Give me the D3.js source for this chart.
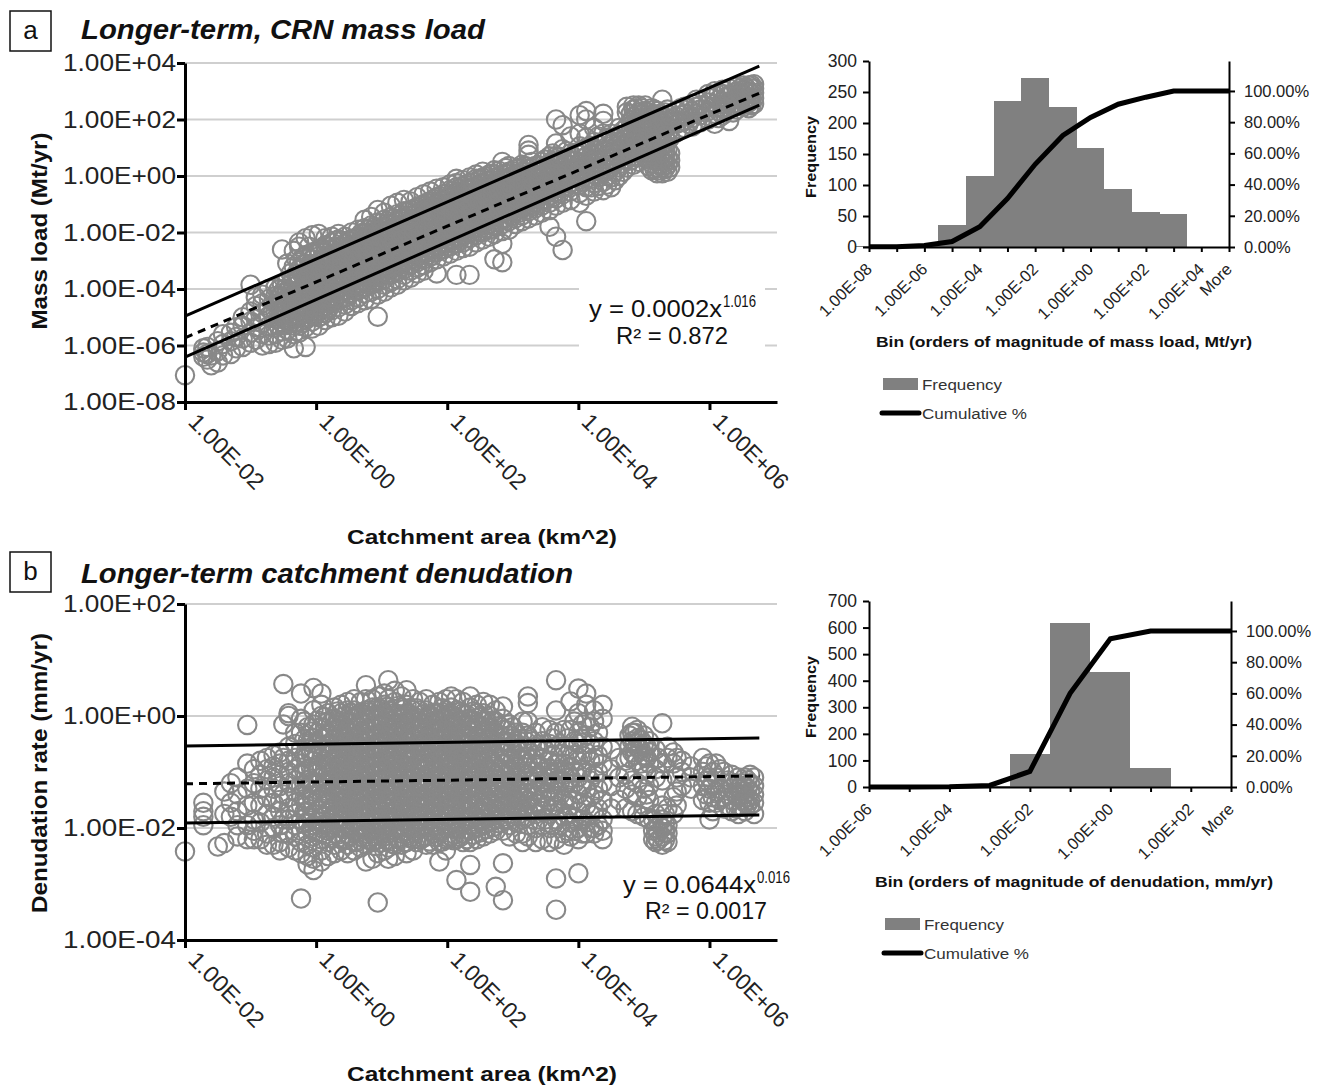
<!DOCTYPE html>
<html lang="en">
<head>
<meta charset="UTF-8">
<title>Longer-term mass load and denudation</title>
<script src="https://d3js.org/d3.v7.min.js"></script>
<style>
  body { margin: 0; background: #fff; }
  svg { display: block; font-family: "Liberation Sans", Arial, sans-serif; }
  .grid { stroke: #cfcfcf; stroke-width: 2; }
  .pt { fill: none; stroke: #888; stroke-width: 2.1; }
  .tick text { fill: #222; }
</style>
</head>
<body>
<svg width="1320" height="1087"></svg>
<script>
// values. scatter rows are [log10 area, [log10 y, ...]]
var massLoadPoints = [
[-2,[-7.05]],[-1.72,[-6.25,-6.4,-6.1]],[-1.66,[-6.5,-6.3,-6.05]],[-1.6,[-6.7,-6.35]],[-1.5,[-6.6,-6.2,-5.85]],
[-1.42,[-6.35,-5.95,-5.6]],[-1.3,[-6.3,-5.85,-5.55]],[-1.22,[-6.1,-5.7,-5.35]],[-1.12,[-6.05,-5.75,-5.3,-5]],
[-1,[-5.9,-5.55,-5.15,-4.8,-3.85]],[-.92,[-5.8,-5.35,-5.05,-4.6,-4.3]],[-.82,[-6,-5.6,-5.2,-4.85,-4.5,-4.2]],
[-.72,[-5.95,-5.65,-5.3,-4.95,-4.7,-4.35,-4]],[-.62,[-5.9,-5.6,-5.35,-5.05,-4.8,-4.5,-4.25,-3.95]],
[-.52,[-5.8,-5.5,-5.2,-4.95,-4.7,-4.45,-4.15,-3.85,-2.6]],[-.44,[-5.75,-5.45,-5.15,-4.85,-4.6,-4.3,-4.05,-3.7,-3.1]],
[-.34,[-6.1,-5.6,-5.3,-5.05,-4.75,-4.5,-4.2,-3.9,-3.6,-3.2,-2.65]],
[-.26,[-5.55,-5.3,-5,-4.8,-4.55,-4.3,-4.05,-3.8,-3.55,-3.3,-3.05,-2.5,-2.35]],
[-.16,[-6.05,-5.35,-5.1,-4.85,-4.6,-4.4,-4.1,-3.85,-3.6,-3.4,-3.1,-2.8,-2.2]],
[-.06,[-5.4,-5.15,-4.9,-4.65,-4.35,-4.15,-3.9,-3.65,-3.4,-3.15,-2.95,-2.7,-2.1]],
[.04,[-5.3,-5,-4.8,-4.55,-4.3,-4.05,-3.8,-3.55,-3.3,-3.05,-2.85,-2.6,-2.05]],
[.14,[-5.1,-4.85,-4.6,-4.4,-4.15,-3.9,-3.65,-3.4,-3.2,-2.95,-2.7,-2.45,-2.2]],
[.24,[-5,-4.75,-4.5,-4.25,-4,-3.8,-3.55,-3.3,-3.05,-2.8,-2.6,-2.35,-2.15]],
[.34,[-4.95,-4.65,-4.4,-4.2,-3.95,-3.7,-3.45,-3.2,-2.95,-2.75,-2.5,-2.25,-2.05]],
[.44,[-4.8,-4.55,-4.3,-4.05,-3.8,-3.6,-3.35,-3.1,-2.85,-2.65,-2.4,-2.15]],
[.54,[-4.6,-4.4,-4.15,-3.9,-3.7,-3.45,-3.2,-3,-2.75,-2.5,-2.25,-2]],
[.64,[-4.5,-4.3,-4.05,-3.8,-3.55,-3.3,-3.1,-2.85,-2.6,-2.4,-2.15,-1.9]],
[.74,[-4.4,-4.15,-3.95,-3.7,-3.45,-3.25,-3,-2.75,-2.5,-2.3,-2.05,-1.85,-1.55]],
[.84,[-4.35,-4.1,-3.85,-3.6,-3.4,-3.15,-2.9,-2.7,-2.45,-2.2,-2,-1.75,-1.45]],
[.94,[-4.98,-4.2,-4,-3.75,-3.5,-3.3,-3.05,-2.8,-2.6,-2.35,-2.1,-1.9,-1.65,-1.2]],
[1.04,[-4.1,-3.85,-3.65,-3.4,-3.2,-2.95,-2.7,-2.5,-2.25,-2,-1.8,-1.55,-1.3]],
[1.14,[-3.95,-3.75,-3.5,-3.3,-3.05,-2.85,-2.6,-2.35,-2.15,-1.9,-1.7,-1.45,-1.05]],
[1.24,[-3.85,-3.65,-3.4,-3.15,-2.95,-2.7,-2.5,-2.25,-2.05,-1.8,-1.6,-1.35,-.95]],
[1.34,[-3.7,-3.5,-3.3,-3.05,-2.85,-2.6,-2.4,-2.15,-1.95,-1.7,-1.5,-1.25,-.85]],
[1.44,[-3.6,-3.35,-3.15,-2.95,-2.75,-2.5,-2.3,-2.05,-1.85,-1.6,-1.4,-1.2,-.9]],
[1.54,[-3.45,-3.25,-3.05,-2.85,-2.6,-2.4,-2.2,-1.95,-1.75,-1.55,-1.3,-1.1,-.75]],
[1.64,[-3.35,-3.15,-2.95,-2.7,-2.5,-2.3,-2.05,-1.85,-1.65,-1.4,-1.2,-1,-.65]],
[1.74,[-3.05,-2.85,-2.6,-2.4,-2.2,-1.95,-1.75,-1.55,-1.3,-1.1,-.9,-.55]],
[1.84,[-3.45,-2.95,-2.7,-2.5,-2.3,-2.05,-1.85,-1.65,-1.4,-1.2,-1,-.75,-.45]],
[1.94,[-2.85,-2.6,-2.4,-2.15,-1.95,-1.75,-1.5,-1.3,-1.1,-.85,-.65,-.4]],
[2.04,[-2.75,-2.5,-2.3,-2.05,-1.85,-1.6,-1.4,-1.2,-.95,-.75,-.5,-.3]],
[2.14,[-3.5,-2.65,-2.4,-2.2,-1.95,-1.75,-1.5,-1.3,-1.05,-.85,-.6,-.4,-.25,-.1]],
[2.24,[-2.55,-2.35,-2.1,-1.9,-1.65,-1.45,-1.2,-1,-.8,-.55,-.35,-.15]],
[2.34,[-3.5,-2.5,-2.2,-2,-1.75,-1.55,-1.3,-1.1,-.9,-.65,-.45,-.25,-.05]],
[2.44,[-2.35,-2.1,-1.85,-1.65,-1.4,-1.2,-1,-.75,-.55,-.35,-.1,.05]],
[2.54,[-2.25,-2,-1.75,-1.55,-1.3,-1.1,-.9,-.7,-.45,-.25,-.05,.15]],
[2.64,[-2.15,-1.9,-1.7,-1.45,-1.25,-1,-.8,-.6,-.35,-.15,.05]],
[2.72,[-2.95,-2.05,-1.8,-1.55,-1.35,-1.15,-.9,-.7,-.5,-.25,-.05,.2]],
[2.84,[-3.05,-2.4,-1.95,-1.7,-1.5,-1.25,-1.05,-.8,-.6,-.4,-.15,.05,.5]],
[2.94,[-1.9,-1.6,-1.35,-1.15,-.95,-.7,-.5,-.3,-.05,.15,.35]],
[3.04,[-1.7,-1.5,-1.25,-1.05,-.8,-.6,-.4,-.2,.05,.25]],
[3.14,[-1.6,-1.4,-1.15,-.95,-.7,-.5,-.3,-.05,.15,.4]],
[3.24,[-1.5,-1.25,-1.05,-.85,-.6,-.4,-.2,.05,.25,.9,1.1,.75]],
[3.34,[-1.4,-1.15,-.95,-.7,-.5,-.3,-.05,.15,.35]],
[3.44,[-1.3,-1.05,-.85,-.6,-.4,-.2,.05,.25,.5]],
[3.56,[-1.8,-1.2,-.95,-.7,-.45,-.25,0,.25,.45,.7]],
[3.66,[-2.15,-1.05,-.8,-.55,-.3,-.05,.2,.45,.7,1.15,2]],
[3.76,[-2.62,-.95,-.65,-.4,-.15,.1,.35,.6,.95,1.8]],
[3.88,[-.85,-.55,-.25,0,.25,.55,.8,1.4]],
[4.02,[-.95,-.6,-.3,-.05,.2,.5,.75,1.05,1.5,2.15]],
[4.12,[-1.6,-.7,-.4,-.1,.15,.4,.7,1,1.35,2.0,2.3]],
[4.24,[-.55,-.25,.05,.3,.6,.9,1.2,1.7]],
[4.38,[-.5,-.2,.1,.35,.6,.9,1.2,1.5,1.95,2.2]],
[4.5,[-.4,-.05,.3,.6,.85,1.15,1.5]],
[4.62,[0,.3,.6,.9,1.2,1.45,1.7]],
[4.74,[.3,.6,.9,1.15,1.4,1.75,2.25,2.45]],
[4.84,[.4,.7,1,1.25,1.55,1.85,2.1,2.35,2.5]],
[4.92,[.5,.9,1.2,1.5,1.75,2,2.25,2.5]],
[5.02,[.65,.95,1.25,1.55,1.8,2.05,2.3,2.5]],
[5.12,[.2,.45,.7,1.1,1.4,1.65,1.9,2.15,2.4]],
[5.2,[.1,.3,.55,.85,1.2,1.45,1.7,2,2.3]],
[5.28,[.1,.3,.55,.8,1.05,1.3,1.6,1.85,2.1,2.7]],
[5.36,[.15,.4,.65,.95,1.2,1.5,1.75,2.05,2.35]],
[5.5,[1.55,1.85,2.1,2.3]],[5.62,[1.7,1.95,2.2,2.45]],[5.74,[1.75,2.05,2.3,2.55]],
[5.86,[1.9,2.15,2.35,2.5]],[5.98,[2,2.3,2.6,2.9]],[6.08,[1.85,2.2,2.55,2.85,3]],
[6.2,[2.15,2.4,2.65,2.9,3.05]],[6.3,[1.95,2.4,2.6,2.85,3.1]],[6.42,[2.35,2.55,2.75,3,3.15]],
[6.52,[2.45,2.65,2.85,3.05,3.2]],[6.6,[2.4,2.6,2.8,3,3.2]],[6.68,[2.55,2.75,2.95,3.1,3.25]],
// the solid middle of the band
[-.57,[-5.3,-5.05,-4.82,-4.58,-4.3,-4.02]],[-.48,[-5.28,-5.02,-4.78,-4.52,-4.28,-4]],
[-.39,[-5.2,-4.92,-4.68,-4.4,-4.12,-3.82,-3.45]],[-.3,[-5.15,-4.7,-4.45,-4.15,-3.7,-3.45,-2.95]],
[-.21,[-5.2,-4.9,-4.5,-4.2,-3.95,-3.5,-3.25,-2.9]],[-.11,[-5,-4.72,-4.48,-4.22,-3.72,-3.48,-3.22,-2.92,-2.5]],
[-.01,[-4.92,-4.68,-4.42,-4.18,-3.92,-3.68,-3.42,-3.18,-2.78]],[.09,[-4.95,-4.7,-4.48,-4.25,-4,-3.75,-3.5,-3.28,-3,-2.55]],
[.19,[-4.7,-4.5,-4.28,-4.05,-3.78,-3.52,-3.3,-3.08,-2.82,-2.5]],[.29,[-4.3,-4.1,-3.9,-3.68,-3.45,-3.22,-3,-2.8,-2.55,-2.3]],
[.39,[-4.15,-3.92,-3.72,-3.48,-3.22,-3,-2.78,-2.52,-2.3]],[.49,[-4.15,-3.9,-3.65,-3.42,-3.25,-3,-2.75,-2.55,-2.28]],
[.59,[-4.05,-3.82,-3.6,-3.35,-3.15,-2.92,-2.7,-2.45,-2.2]],[.69,[-3.95,-3.68,-3.42,-3.2,-2.95,-2.72,-2.5,-2.25,-2.02]],
[.79,[-3.8,-3.55,-3.32,-3.1,-2.85,-2.62,-2.38,-2.12,-1.9]],[.89,[-3.7,-3.42,-3.22,-2.98,-2.75,-2.52,-2.28,-2.05,-1.82]],
[.99,[-3.55,-3.3,-3.08,-2.85,-2.62,-2.42,-2.18,-1.92,-1.68]],[1.09,[-3.45,-3.22,-2.98,-2.75,-2.52,-2.3,-2.05,-1.82,-1.6]],
[1.19,[-3.35,-3.1,-2.85,-2.62,-2.4,-2.18,-1.95,-1.72,-1.5]],[1.29,[-3.25,-3,-2.75,-2.52,-2.3,-2.08,-1.85,-1.6,-1.38]],
[1.39,[-3.12,-2.88,-2.65,-2.42,-2.2,-1.98,-1.75,-1.5,-1.28]],[1.49,[-3,-2.75,-2.52,-2.3,-2.08,-1.88,-1.65,-1.42,-1.18]],
[1.59,[-2.92,-2.68,-2.42,-2.2,-1.98,-1.75,-1.52,-1.28,-1.05]],[1.69,[-2.82,-2.55,-2.32,-2.08,-1.88,-1.65,-1.42,-1.18,-.95]],
[1.79,[-2.72,-2.45,-2.22,-2,-1.78,-1.55,-1.32,-1.08,-.82]],[1.89,[-2.62,-2.35,-2.12,-1.88,-1.68,-1.42,-1.2,-.98,-.72]],
[1.99,[-2.5,-2.25,-2.02,-1.78,-1.55,-1.32,-1.08,-.88,-.62]],[2.09,[-2.4,-2.15,-1.92,-1.68,-1.45,-1.22,-1,-.78,-.52]],
[2.19,[-2.28,-2.02,-1.78,-1.58,-1.35,-1.12,-.9,-.68,-.45]],[2.29,[-2.2,-1.95,-1.72,-1.48,-1.25,-1.02,-.8,-.58,-.32]],
[2.39,[-2.08,-1.82,-1.58,-1.35,-1.12,-.9,-.68,-.45,-.22]],[2.49,[-1.95,-1.72,-1.48,-1.25,-1.02,-.82,-.58,-.35,-.12]],
[2.59,[-1.85,-1.6,-1.38,-1.15,-.92,-.7,-.48,-.25,-.02]],[2.69,[-1.75,-1.5,-1.28,-1.05,-.82,-.6,-.38,-.15,.08]],
[2.79,[-1.62,-1.38,-1.18,-.95,-.72,-.5,-.28,-.05,.18]],[2.89,[-1.5,-1.28,-1.05,-.82,-.6,-.38,-.15,.08,.28]],
[2.99,[-1.42,-1.18,-.95,-.72,-.5,-.28,-.05,.18]],[3.09,[-1.3,-1.08,-.85,-.62,-.4,-.18,.05,.28]],
[3.19,[-1.2,-.98,-.75,-.52,-.3,-.08,.15,.35]],[3.29,[-1.08,-.85,-.62,-.4,-.18,.05,.28,.5]],
[3.39,[-.98,-.75,-.52,-.3,-.08,.15,.38]],[3.49,[-.88,-.62,-.38,-.15,.08,.32,.58]],
[3.61,[-.75,-.48,-.22,.02,.28,.52,.8]],[3.71,[-.62,-.32,-.08,.18,.42,.68]],
[3.82,[-.4,-.12,.12,.38,.62,.88]],[3.95,[-.3,0,.28,.55,.82]],[4.08,[-.2,.08,.35,.62,.92]],
// thick patches further along
[4.2,[-.4,-.1,.2,.45,.75,1.05]],[4.3,[-.35,-.05,.25,.5,.8,1.1,1.4]],[4.44,[-.3,0,.25,.5,.75,1.05,1.35]],
[4.56,[-.15,.15,.45,.75,1.05,1.3]],[4.68,[.15,.45,.75,1.05,1.3,1.6]],[4.8,[.55,.85,1.1,1.35,1.65,1.95,2.2]],
[4.88,[.65,1.05,1.35,1.65,1.9,2.15,2.4]],[4.97,[.8,1.1,1.4,1.7,1.95,2.2,2.4]],[5.07,[.35,.6,.85,1.25,1.55,1.75,2,2.25]],
[5.16,[.25,.55,.8,1,1.3,1.55,1.8,2.1,2.35]],[5.24,[.2,.42,.68,.95,1.15,1.4,1.7,1.95,2.2]],
[5.32,[.25,.48,.72,.92,1.12,1.42,1.7,1.95,2.25]],[5.4,[.3,.55,.8,1.35,1.65,1.9,2.15]],
[5.56,[1.65,1.9,2.15,2.4]],[5.68,[1.85,2.1,2.4]],[5.8,[1.9,2.2,2.45,2.7]],[6.03,[2.1,2.45,2.75]],
[6.14,[2.05,2.3,2.7,2.95]],[6.25,[2.3,2.55,2.8,3]],[6.36,[2.25,2.5,2.7,2.95]],[6.47,[2.5,2.7,2.9,3.1]],
[6.56,[2.55,2.75,2.95,3.12]],[6.64,[2.5,2.7,2.9,3.1,3.22]]
];

var denudationPoints = [
[-2,[-2.42]],[-1.72,[-1.55,-1.7,-1.8,-1.95]],[-1.5,[-2.33]],[-1.4,[-2.27,-1.35,-1.75]],[-1.3,[-1.2,-1.55,-1.8]],
[-1.2,[-2.15,-1.1,-1.4,-1.7,-1.95]],[-1.05,[-.16,-2.2,-.85,-1.3,-1.6,-1.95]],[-.95,[-2.2,-.95,-1.2,-1.55,-1.85,-2.05]],
[-.85,[-.8,-1.05,-1.3,-1.6,-1.9,-2.2]],[-.75,[-.75,-.95,-1.15,-1.45,-1.75,-2.1,-2.3]],
[-.65,[-.7,-.9,-1.1,-1.3,-1.55,-1.8,-2,-2.3]],[-.55,[-.65,-.85,-1.05,-1.25,-1.5,-1.7,-1.95,-2.25,-2.4]],
[-.5,[.57,-.15,-.75,-1.4,-1.85,-2.1]],[-.42,[.05,.0,-.55,-.8,-1,-1.2,-1.45,-1.65,-1.85,-2.1,-2.35]],
[-.32,[-.3,-.5,-.75,-.95,-1.15,-1.35,-1.55,-1.75,-1.95,-2.15,-2.4]],
[-.23,[.4,-.05,-.3,-.6,-.85,-1.05,-1.25,-1.4,-1.6,-1.85,-2.05,-2.25,-2.45,-3.26]],
[-.13,[-.2,-.45,-.7,-.95,-1.15,-1.3,-1.5,-1.7,-1.9,-2.1,-2.3,-2.5,-2.65]],
[-.04,[.5,.1,-.15,-.4,-.6,-.8,-1,-1.2,-1.35,-1.55,-1.75,-1.95,-2.15,-2.35,-2.55,-2.75]],
[.08,[.4,.2,0,-.2,-.4,-.6,-.75,-.95,-1.1,-1.3,-1.45,-1.65,-1.8,-2,-2.2,-2.4,-2.6]],
[.18,[.05,-.1,-.3,-.5,-.7,-.85,-1.05,-1.2,-1.4,-1.55,-1.7,-1.9,-2.05,-2.25,-2.5]],
[.28,[.15,-.05,-.2,-.4,-.55,-.75,-.9,-1.1,-1.25,-1.4,-1.6,-1.75,-1.95,-2.1,-2.3,-2.45]],
[.38,[.2,.05,-.15,-.35,-.5,-.65,-.85,-1,-1.15,-1.35,-1.5,-1.65,-1.85,-2,-2.2,-2.4]],
[.48,[.25,.1,-.1,-.25,-.45,-.6,-.8,-.95,-1.1,-1.25,-1.45,-1.6,-1.75,-1.95,-2.1,-2.3,-2.45]],
[.58,[.3,.1,-.05,-.2,-.4,-.55,-.7,-.9,-1.05,-1.2,-1.4,-1.55,-1.7,-1.9,-2.05,-2.25,-2.4]],
[.68,[.25,.05,-.1,-.3,-.45,-.65,-.8,-1,-1.15,-1.3,-1.5,-1.65,-1.8,-2,-2.15,-2.35]],
[.76,[.55,.3,.1,-.05,-.25,-.4,-.55,-.75,-.9,-1.05,-1.25,-1.4,-1.6,-1.75,-1.9,-2.1,-2.3,-2.6]],
[.86,[.3,.15,-.05,-.2,-.35,-.55,-.7,-.85,-1.05,-1.2,-1.35,-1.5,-1.7,-1.85,-2.05,-2.25,-2.55]],
[.94,[.35,.15,0,-.15,-.35,-.5,-.65,-.85,-1,-1.15,-1.3,-1.5,-1.65,-1.85,-2,-2.2,-2.45,-3.33]],
[1.04,[.4,.2,.05,-.1,-.3,-.45,-.6,-.8,-.95,-1.1,-1.3,-1.45,-1.6,-1.8,-1.95,-2.15,-2.4]],
[1.1,[.64,.3,.1,-.05,-.25,-.4,-.6,-.75,-.9,-1.1,-1.25,-1.4,-1.55,-1.75,-1.9,-2.1,-2.35,-2.55]],
[1.2,[.45,.25,.05,-.15,-.3,-.5,-.65,-.85,-1,-1.2,-1.35,-1.5,-1.7,-1.85,-2.05,-2.3,-2.5]],
[1.3,[.35,.15,0,-.2,-.35,-.55,-.7,-.9,-1.05,-1.25,-1.4,-1.6,-1.75,-1.95,-2.1,-2.3]],
[1.38,[.46,.2,.05,-.1,-.3,-.45,-.65,-.8,-1,-1.15,-1.35,-1.5,-1.7,-1.85,-2.05,-2.25,-2.45]],
[1.48,[.3,.1,-.05,-.25,-.4,-.6,-.75,-.95,-1.1,-1.3,-1.45,-1.65,-1.8,-2,-2.2,-2.4]],
[1.58,[.25,.1,-.1,-.25,-.45,-.6,-.8,-.95,-1.15,-1.3,-1.5,-1.65,-1.85,-2,-2.2]],
[1.68,[.3,.1,-.05,-.2,-.4,-.55,-.75,-.9,-1.1,-1.25,-1.45,-1.6,-1.8,-1.95,-2.15,-2.3]],
[1.78,[.2,.05,-.15,-.3,-.5,-.65,-.85,-1,-1.2,-1.35,-1.55,-1.7,-1.9,-2.1,-2.3]],
[1.88,[.25,.05,-.1,-.3,-.45,-.65,-.8,-1,-1.15,-1.35,-1.5,-1.7,-1.85,-2.05,-2.25,-2.6]],
[1.98,[.3,.1,-.05,-.25,-.4,-.6,-.75,-.95,-1.1,-1.3,-1.45,-1.65,-1.8,-2,-2.2,-2.4]],
[2.06,[.35,.15,-.05,-.2,-.4,-.55,-.75,-.9,-1.1,-1.25,-1.45,-1.6,-1.8,-1.95,-2.15]],
[2.14,[.3,.1,-.1,-.25,-.45,-.6,-.8,-.95,-1.15,-1.3,-1.5,-1.65,-1.85,-2,-2.2,-2.93]],
[2.24,[.25,.05,-.1,-.3,-.5,-.65,-.85,-1,-1.2,-1.35,-1.55,-1.7,-1.9,-2.1,-2.25]],
[2.35,[.35,.15,-.05,-.2,-.4,-.6,-.75,-.95,-1.1,-1.3,-1.5,-1.65,-1.85,-2.05,-2.25,-2.66,-3.14]],
[2.45,[.2,.05,-.15,-.35,-.5,-.7,-.85,-1.05,-1.25,-1.4,-1.6,-1.8,-2,-2.2]],
[2.55,[.25,.05,-.1,-.3,-.5,-.65,-.85,-1.05,-1.2,-1.4,-1.6,-1.75,-1.95,-2.15]],
[2.65,[.2,0,-.2,-.4,-.55,-.75,-.95,-1.1,-1.3,-1.5,-1.7,-1.9,-2.1]],
[2.74,[.1,-.1,-.3,-.5,-.7,-.9,-1.05,-1.25,-1.45,-1.65,-1.85,-2.05,-3.05]],
[2.85,[.17,-.05,-.25,-.45,-.65,-.85,-1,-1.2,-1.4,-1.6,-1.8,-2.05,-2.63,-3.29]],
[2.95,[-.15,-.35,-.55,-.75,-.95,-1.15,-1.35,-1.55,-1.75,-1.95,-2.15]],
[3.05,[-.3,-.5,-.7,-.9,-1.1,-1.3,-1.5,-1.7,-1.9,-2.1]],
[3.15,[-.1,-.3,-.55,-.8,-1,-1.25,-1.45,-1.65,-1.85,-2.1,-2.25]],
[3.23,[.35,.23,-.1,-.35,-.6,-.85,-1.05,-1.3,-1.5,-1.7,-1.95,-2.15]],
[3.35,[-.3,-.55,-.85,-1.1,-1.35,-1.55,-1.75,-2,-2.25]],
[3.45,[-.2,-.45,-.75,-1,-1.2,-1.45,-1.7,-1.95,-2.2]],
[3.56,[-.25,-.5,-.8,-.95,-1.1,-1.3,-1.5,-1.75,-2,-2.25]],
[3.66,[.64,.1,-.3,-.55,-.85,-1,-1.15,-1.35,-1.6,-1.85,-2.2,-2.9,-3.46]],
[3.78,[-.25,-.55,-.85,-1.05,-1.25,-1.5,-1.8,-2.1,-2.3]],
[3.88,[.26,-.25,-.6,-.9,-1.1,-1.3,-1.6,-1.9,-2.15]],
[4,[.49,.05,-.3,-.5,-.8,-1.1,-1.4,-1.7,-2,-2.2,-2.81]],
[4.12,[.4,.2,-.1,-.35,-.65,-1,-1.3,-1.6,-1.9,-2.1]],
[4.24,[.1,-.1,-.45,-.75,-1.05,-1.4,-1.7,-2,-2.1]],
[4.37,[.2,-.05,-.55,-.85,-1.2,-1.5,-1.85,-2.05,-2.2]],
[4.5,[-.6,-.95,-1.25,-1.65]],[4.62,[-.75,-1.1,-1.5]],[4.72,[-.8,-1.05,-1.3,-1.65]],
[4.82,[-.19,-.3,-.45,-.65,-1.15,-1.4,-1.7]],[4.9,[-.25,-.4,-.55,-.8,-1.2,-1.45,-1.75]],
[5,[-.35,-.5,-.7,-.95,-1.3,-1.6,-1.8]],[5.08,[-.45,-.65,-.85,-1.25,-1.5,-1.85]],
[5.18,[-.6,-.95,-1.1,-1.75,-2,-2.15,-2.25]],[5.28,[-.13,-.85,-1.15,-1.6,-1.85,-2,-2.15,-2.3]],
[5.36,[-.55,-.75,-1.65,-1.95,-2.1,-2.25]],[5.45,[-.65,-.85,-1.45,-1.75]],[5.58,[-.8,-1,-1.25]],
[5.72,[-.9,-1.1,-1.3]],[5.9,[-.75,-1,-1.25,-1.5]],[6,[-.85,-1.1,-1.3,-1.55,-1.85]],
[6.1,[-.85,-1.1,-1.35,-1.55]],[6.22,[-1,-1.2,-1.45,-1.65]],[6.34,[-1.05,-1.3,-1.5,-1.7]],
[6.44,[-1.1,-1.3,-1.45,-1.6,-1.75]],[6.54,[-1.1,-1.25,-1.4,-1.55,-1.7]],[6.62,[-1.05,-1.2,-1.35,-1.5,-1.6]],
[6.68,[-1.1,-1.25,-1.4,-1.55,-1.75]],
// the solid middle of the cloud
[-.18,[-1.92,-1.72,-1.48,-1.22,-.98,-.72,-.42,-.1]],[-.08,[-2.02,-1.82,-1.62,-1.42,-1.18,-.92,-.68,-.48,-.28]],
[.02,[-2.08,-1.88,-1.68,-1.5,-1.22,-1.02,-.88,-.68,-.5,-.3,-.08]],
[.13,[-2.12,-1.95,-1.78,-1.58,-1.38,-1.18,-.98,-.78,-.58,-.38,-.22,-.02]],
[.23,[-2.18,-2,-1.82,-1.65,-1.48,-1.32,-1.15,-.98,-.82,-.62,-.48,-.28,-.12]],
[.33,[-2.12,-1.92,-1.72,-1.55,-1.35,-1.22,-1.05,-.88,-.72,-.58,-.42,-.25,-.08,.08]],
[.43,[-2.22,-2.02,-1.85,-1.68,-1.52,-1.35,-1.18,-1.02,-.85,-.7,-.52,-.35,-.18,0]],
[.53,[-2.15,-1.98,-1.78,-1.62,-1.48,-1.3,-1.12,-.97,-.78,-.63,-.47,-.3,-.12,.05]],
[.63,[-2.25,-2.08,-1.88,-1.72,-1.55,-1.38,-1.22,-1.06,-.88,-.72,-.55,-.38,-.2,-.02]],
[.72,[-2.18,-2,-1.83,-1.66,-1.47,-1.33,-1.13,-.96,-.82,-.62,-.49,-.32,-.15,.02]],
[.81,[-2.2,-1.95,-1.78,-1.6,-1.43,-1.27,-1.1,-.93,-.77,-.6,-.43,-.27,-.12,.07]],
[.9,[-2.32,-2.1,-1.92,-1.74,-1.58,-1.41,-1.23,-1.07,-.91,-.73,-.58,-.41,-.23,-.07,.1]],
[.99,[-2.26,-2.06,-1.88,-1.71,-1.53,-1.37,-1.2,-1.04,-.87,-.7,-.53,-.37,-.2,-.04,.12]],
[1.07,[-2.22,-2.02,-1.84,-1.66,-1.5,-1.33,-1.16,-1,-.83,-.66,-.5,-.33,-.16,0,.16]],
[1.15,[-2.28,-2.08,-1.91,-1.73,-1.57,-1.4,-1.23,-1.05,-.88,-.72,-.55,-.38,-.22,-.08,.08]],
[1.25,[-2.2,-2.02,-1.82,-1.64,-1.47,-1.3,-1.13,-.97,-.8,-.63,-.47,-.3,-.13,.03,.18]],
[1.34,[-2.26,-2.06,-1.87,-1.7,-1.53,-1.37,-1.19,-1.02,-.86,-.69,-.52,-.36,-.19,-.02,.12]],
[1.43,[-2.18,-1.98,-1.81,-1.63,-1.47,-1.3,-1.12,-.96,-.79,-.62,-.46,-.29,-.13,.03]],
[1.53,[-2.25,-2.05,-1.88,-1.7,-1.53,-1.37,-1.2,-1.03,-.87,-.7,-.53,-.37,-.2,-.03,.14]],
[1.63,[-2.18,-1.98,-1.79,-1.62,-1.46,-1.28,-1.12,-.96,-.78,-.62,-.46,-.29,-.13,.03]],
[1.73,[-2.24,-2.05,-1.86,-1.69,-1.52,-1.35,-1.19,-1.03,-.86,-.69,-.53,-.36,-.2,-.02]],
[1.83,[-2.16,-1.96,-1.78,-1.61,-1.43,-1.27,-1.1,-.93,-.77,-.6,-.43,-.27,-.1,.06]],
[1.93,[-2.24,-2.05,-1.88,-1.71,-1.53,-1.37,-1.2,-1.03,-.86,-.7,-.53,-.36,-.2,-.03,.14]],
[2.02,[-2.18,-1.98,-1.8,-1.62,-1.46,-1.3,-1.13,-.96,-.8,-.63,-.46,-.3,-.13,.03]],
[2.1,[-2.22,-2.02,-1.84,-1.67,-1.5,-1.33,-1.16,-1,-.83,-.66,-.5,-.33,-.16,0]],
[2.2,[-2.16,-1.96,-1.78,-1.6,-1.43,-1.26,-1.1,-.93,-.76,-.6,-.43,-.27,-.1,.08]],
[2.3,[-2.2,-2.02,-1.84,-1.67,-1.5,-1.33,-1.17,-1,-.83,-.67,-.5,-.33,-.16,.02]],
[2.4,[-2.12,-1.94,-1.76,-1.58,-1.42,-1.25,-1.08,-.92,-.75,-.58,-.42,-.25,-.08,.08]],
[2.5,[-2.08,-1.88,-1.7,-1.52,-1.34,-1.17,-1,-.83,-.67,-.5,-.33,-.17,-.02]],
[2.6,[-2.02,-1.82,-1.63,-1.45,-1.27,-1.1,-.92,-.75,-.58,-.42,-.25,-.08]],
[2.7,[-1.98,-1.76,-1.56,-1.37,-1.18,-1,-.82,-.63,-.44,-.27,-.08]],
[2.8,[-1.92,-1.7,-1.5,-1.32,-1.12,-.93,-.75,-.55,-.35,-.18]],
[2.9,[-1.85,-1.64,-1.44,-1.25,-1.05,-.85,-.65,-.45,-.25]],
[3,[-1.8,-1.6,-1.4,-1.2,-1,-.8,-.6,-.4,-.2]],[3.1,[-1.75,-1.55,-1.35,-1.15,-.95,-.75,-.45]],
[3.2,[-1.8,-1.6,-1.38,-1.15,-.92,-.72,-.45]],[3.3,[-1.65,-1.45,-1.22,-.98,-.75,-.45]],
[3.4,[-1.85,-1.58,-1.32,-1.08,-.88,-.6]],[3.5,[-1.85,-1.6,-1.38,-1.18,-.95,-.62]],
[3.61,[-1.95,-1.62,-1.42,-1.22,-1.05,-.7,-.4]],[3.72,[-1.95,-1.68,-1.42,-1.18,-.95,-.68]],
// thick patches further along
[3.83,[-.4,-.7,-1,-1.2,-1.45,-1.75,-2.05]],[3.94,[-.1,-.45,-.7,-1,-1.2,-1.5,-1.8,-2.05]],
[4.06,[-.15,-.4,-.7,-.95,-1.25,-1.55,-1.85,-2.1]],[4.18,[-.2,-.5,-.8,-1.15,-1.45,-1.75,-2]],[4.3,[-.3,-.7,-1,-1.3,-1.65,-1.95]],
[4.78,[-.35,-.55,-.75]],[4.86,[-.3,-.48,-.7]],[4.95,[-.42,-.6,-.85]],[5.04,[-.55,-.75,-1.05,-1.4]],
[5.14,[-1.85,-2.05,-2.2]],[5.22,[-1.9,-2.08,-2.22,-.75]],[5.32,[-1.75,-1.92,-2.08,-2.22]],[5.5,[-.75,-1.1,-1.35,-1.6]],
[5.95,[-.9,-1.15,-1.4]],[6.05,[-1,-1.2,-1.45,-1.7]],[6.16,[-.95,-1.3,-1.5]],[6.28,[-1.15,-1.4,-1.6]],
[6.4,[-1.2,-1.4,-1.65]],[6.5,[-1.2,-1.35,-1.5,-1.62]],[6.58,[-1.15,-1.3,-1.45,-1.58]]
];

var areaTicks = [1e-2, 1, 1e2, 1e4, 1e6];
var massTicks = [1e-8, 1e-6, 1e-4, 1e-2, 1, 1e2, 1e4];
var denudationTicks = [1e-4, 1e-2, 1, 1e2];

// trend lines, [[log x, log y], [log x, log y]]
var massMean = [[-2, -5.73], [6.8, 2.97]];
var massUpper = [[-2, -4.96], [6.76, 3.89]];
var massLower = [[-2, -6.41], [6.76, 2.51]];
var denudationMean = [[-2, -1.21], [6.76, -1.07]];
var denudationUpper = [[-2, -.536], [6.76, -.393]];
var denudationLower = [[-2, -1.91], [6.76, -1.77]];

// histograms
var massBins = ["1.00E-08","1.00E-07","1.00E-06","1.00E-05","1.00E-04","1.00E-03","1.00E-02","1.00E-01","1.00E+00","1.00E+01","1.00E+02","1.00E+03","1.00E+04","More"];
var massBinLabels = ["1.00E-08","1.00E-06","1.00E-04","1.00E-02","1.00E+00","1.00E+02","1.00E+04","More"];
var massFreq = [1, 1, 5, 35, 115, 235, 272, 226, 160, 94, 56, 54, 0, 0];
var massCum = [.1, .2, 1, 3.5, 13, 31, 53, 71.5, 83, 91.5, 96, 100, 100, 100];
var massFreqTicks = [0, 50, 100, 150, 200, 250, 300];

var denudationBins = ["1.00E-06","1.00E-05","1.00E-04","1.00E-03","1.00E-02","1.00E-01","1.00E+00","1.00E+01","1.00E+02","More"];
var denudationBinLabels = ["1.00E-06","1.00E-04","1.00E-02","1.00E+00","1.00E+02","More"];
var denudationFreq = [0, 0, 0, 3, 125, 617, 433, 72, 0, 0];
var denudationCum = [0, 0, .1, 1, 10, 60, 95, 100, 100, 100];
var denudationFreqTicks = [0, 100, 200, 300, 400, 500, 600, 700];

var pctTicks = [0, 20, 40, 60, 80, 100];

var svg = d3.select("svg");

function sciFormat(d) {
	var e = Math.round(Math.log10(d));
	var s = String(Math.abs(e));
	if (s.length < 2) s = "0" + s;
	return "1.00E" + (e < 0 ? "-" : "+") + s;
}

// text helper, the picture's type is a bit wider than Liberation so most labels get a textLength
function label(x, y, str, size, opts) {
	opts = opts || {};
	var t = svg.append("text")
		.attr("x", x).attr("y", y)
		.attr("font-size", size)
		.attr("fill", opts.fill || "#111")
		.attr("font-weight", opts.bold ? "bold" : "normal")
		.attr("font-style", opts.italic ? "italic" : "normal")
		.attr("text-anchor", opts.anchor || "start")
		.text(str);
	if (opts.len) t.attr("textLength", opts.len).attr("lengthAdjust", "spacingAndGlyphs");
	if (opts.rotate) t.attr("transform", "rotate(" + opts.rotate + " " + x + " " + y + ")");
	return t;
}

function scatterPanel(p) {
	var x = d3.scaleLog().domain([1e-2, 10 ** 7.03]).range([p.left, p.right]);
	var y = d3.scaleLog().domain([p.yTicks[0], p.yTicks[p.yTicks.length - 1]]).range([p.bottom, p.top]);

	svg.append("g").selectAll("line")
		.data(p.yTicks.slice(1))
		.enter().append("line")
		.attr("class", "grid")
		.attr("x1", p.left).attr("x2", p.right)
		.attr("y1", function(d) { return y(d); })
		.attr("y2", function(d) { return y(d); });

	if (p.mask) {
		svg.append("rect").attr("x", p.mask[0]).attr("y", p.mask[1])
			.attr("width", p.mask[2]).attr("height", p.mask[3]).attr("fill", "#fff");
	}

	var pts = p.points.flatMap(function(row) {
		return row[1].map(function(v) { return [10 ** row[0], 10 ** v]; });
	});
	svg.append("g").selectAll("circle")
		.data(pts)
		.enter().append("circle")
		.attr("class", "pt")
		.attr("cx", function(d) { return x(d[0]); })
		.attr("cy", function(d) { return y(d[1]); })
		.attr("r", 9.2);

	var line = d3.line()
		.x(function(d) { return x(10 ** d[0]); })
		.y(function(d) { return y(10 ** d[1]); });
	[p.upper, p.lower, p.mean].forEach(function(tr, i) {
		svg.append("path").datum(tr)
			.attr("d", line)
			.attr("fill", "none")
			.attr("stroke", "#000")
			.attr("stroke-width", 3)
			.attr("stroke-dasharray", i == 2 ? "8 6" : null);
	});

	var xAxis = d3.axisBottom(x).tickValues(areaTicks).tickFormat(sciFormat).tickSizeInner(8).tickSizeOuter(0);
	var yAxis = d3.axisLeft(y).tickValues(p.yTicks).tickFormat(sciFormat).tickSizeInner(8).tickSizeOuter(0);

	var gx = svg.append("g").attr("transform", "translate(0," + p.bottom + ")").call(xAxis);
	gx.selectAll("text")
		.attr("font-size", 23).attr("text-anchor", "start")
		.attr("transform", "rotate(45)")
		.attr("x", 16).attr("y", 14).attr("dy", 0)
		.attr("textLength", 96).attr("lengthAdjust", "spacingAndGlyphs");

	var gy = svg.append("g").attr("transform", "translate(" + p.left + ",0)").call(yAxis);
	gy.selectAll("text").attr("font-size", 24).attr("x", -9)
		.attr("textLength", 113).attr("lengthAdjust", "spacingAndGlyphs");

	[gx, gy].forEach(function(g) {
		g.select(".domain").attr("stroke", "#000").attr("stroke-width", 3);
		g.selectAll(".tick line").attr("stroke", "#000").attr("stroke-width", 3);
	});
}

function histPanel(p) {
	var x = d3.scalePoint().domain(p.bins).range([p.left, p.right]);
	var y = d3.scaleLinear().domain([0, p.freqTicks[p.freqTicks.length - 1]]).range([p.bottom, p.top]);
	var yPct = d3.scaleLinear().domain([0, 119.2]).range([p.bottom, p.top]);
	var step = x.step();

	svg.append("g").selectAll("rect")
		.data(p.freq)
		.enter().append("rect")
		.attr("x", function(d, i) { return x(p.bins[i]) - step / 2; })
		.attr("y", function(d) { return y(d); })
		.attr("width", step)
		.attr("height", function(d) { return p.bottom - y(d); })
		.attr("fill", "#808080")
		.attr("shape-rendering", "crispEdges");

	var gx = svg.append("g").attr("transform", "translate(0," + p.bottom + ")")
		.call(d3.axisBottom(x).tickSizeInner(5).tickSizeOuter(0)
			.tickFormat(function(d) { return p.binLabels.indexOf(d) >= 0 ? d : ""; }));
	gx.selectAll("text")
		.attr("font-size", 16.5).attr("text-anchor", "end")
		.attr("transform", "rotate(-45)")
		.attr("x", -14).attr("y", 19).attr("dy", 0)
		.attr("fill", "#222");

	var gy = svg.append("g").attr("transform", "translate(" + p.left + ",0)")
		.call(d3.axisLeft(y).tickValues(p.freqTicks).tickSizeInner(6).tickSizeOuter(0));
	gy.selectAll("text").attr("font-size", 17.5).attr("x", -12);

	var gr = svg.append("g").attr("transform", "translate(" + p.right + ",0)")
		.call(d3.axisRight(yPct).tickValues(pctTicks).tickSizeInner(6).tickSizeOuter(0)
			.tickFormat(function(d) { return d + ".00%"; }));
	gr.selectAll("text").attr("font-size", 16.5).attr("x", 15);

	[gx, gy, gr].forEach(function(g) {
		g.select(".domain").attr("stroke", "#000").attr("stroke-width", 2);
		g.selectAll(".tick line").attr("stroke", "#000").attr("stroke-width", 2);
	});

	svg.append("path").datum(p.cum)
		.attr("d", d3.line()
			.x(function(d, i) { return x(p.bins[i]); })
			.y(function(d) { return yPct(d); }))
		.attr("fill", "none")
		.attr("stroke", "#000")
		.attr("stroke-width", 5);
}

function legend(x, y) {
	svg.append("rect").attr("x", x).attr("y", y).attr("width", 35).attr("height", 12).attr("fill", "#808080");
	label(x + 39, y + 12, "Frequency", 15.5, { fill: "#333", len: 80 });
	svg.append("line").attr("x1", x - 1).attr("x2", x + 36)
		.attr("y1", y + 35).attr("y2", y + 35)
		.attr("stroke", "#000").attr("stroke-width", 5).attr("stroke-linecap", "round");
	label(x + 39, y + 41, "Cumulative %", 15.5, { fill: "#333", len: 105 });
}

function tagBox(y, letter) {
	svg.append("rect").attr("x", 10).attr("y", y).attr("width", 41).attr("height", 40)
		.attr("fill", "#fff").attr("stroke", "#111").attr("stroke-width", 1.5);
	label(30.5, y + 28, letter, 26, { anchor: "middle" });
}

// panel a
tagBox(11, "a");
label(81, 39, "Longer-term, CRN mass load", 27, { bold: true, italic: true, len: 404 });
scatterPanel({
	left: 185, right: 777, top: 63, bottom: 402,
	yTicks: massTicks, points: massLoadPoints,
	mean: massMean, upper: massUpper, lower: massLower,
	mask: [579, 278, 186, 76]
});
label(47, 231, "Mass load (Mt/yr)", 22, { bold: true, anchor: "middle", rotate: -90, len: 197 });
label(482, 544, "Catchment area (km^2)", 21, { bold: true, anchor: "middle", len: 270 });
label(589, 317, "y = 0.0002x", 23, { len: 133 });
label(723, 307, "1.016", 16, { len: 33 });
label(672, 344, "R\u00b2 = 0.872", 23, { anchor: "middle", len: 112 });

histPanel({
	left: 869, right: 1229, top: 61, bottom: 247,
	bins: massBins, binLabels: massBinLabels,
	freq: massFreq, cum: massCum, freqTicks: massFreqTicks
});
label(816, 157, "Frequency", 15.5, { bold: true, anchor: "middle", rotate: -90, len: 82 });
label(1064, 347, "Bin (orders of magnitude of mass load, Mt/yr)", 15, { bold: true, anchor: "middle", len: 376 });
legend(883, 378);

// panel b
tagBox(552, "b");
label(81, 583, "Longer-term catchment denudation", 27, { bold: true, italic: true, len: 492 });
scatterPanel({
	left: 185, right: 777, top: 604, bottom: 940,
	yTicks: denudationTicks, points: denudationPoints,
	mean: denudationMean, upper: denudationUpper, lower: denudationLower
});
label(47, 773, "Denudation rate (mm/yr)", 22, { bold: true, anchor: "middle", rotate: -90, len: 280 });
label(482, 1081, "Catchment area (km^2)", 21, { bold: true, anchor: "middle", len: 270 });
label(623, 893, "y = 0.0644x", 23, { len: 133 });
label(757, 883, "0.016", 16, { len: 33 });
label(706, 919, "R\u00b2 = 0.0017", 23, { anchor: "middle", len: 122 });

histPanel({
	left: 869, right: 1231, top: 601, bottom: 787,
	bins: denudationBins, binLabels: denudationBinLabels,
	freq: denudationFreq, cum: denudationCum, freqTicks: denudationFreqTicks
});
label(816, 697, "Frequency", 15.5, { bold: true, anchor: "middle", rotate: -90, len: 82 });
label(1074, 887, "Bin (orders of magnitude of denudation, mm/yr)", 15, { bold: true, anchor: "middle", len: 398 });
legend(885, 918);
</script>
</body>
</html>
